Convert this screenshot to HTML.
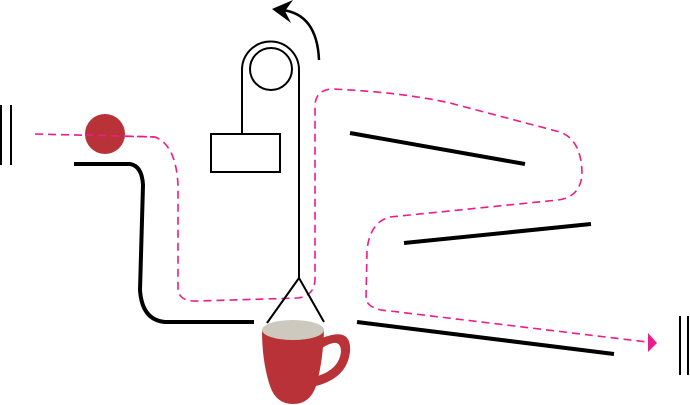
<!DOCTYPE html>
<html><head><style>html,body{margin:0;padding:0;background:#fff;width:690px;height:405px;overflow:hidden}</style></head>
<body>
<svg width="690" height="405" viewBox="0 0 690 405" xmlns="http://www.w3.org/2000/svg">
<g stroke="#000" stroke-width="2">
<line x1="1" y1="105" x2="1" y2="165"/><line x1="11" y1="105" x2="11" y2="165"/>
<line x1="680" y1="316" x2="680" y2="375"/><line x1="688" y1="316" x2="688" y2="375"/>
</g>
<path d="M35,134 L155,137 Q176,145 178,185 L178,290 Q180,302 198,301 L298,298 Q314,296 315,280 L315,105 Q316,90 332,89 Q400,92 450,103 L560,132 Q582,140 582,175 Q580,197 558,200 L390,217 Q370,222 367,250 L366,300 Q370,310 390,311 L647,342" fill="none" stroke="#ec1c8c" stroke-width="1.6" stroke-dasharray="8,5"/>
<polygon points="648,333 657,343 648,352" fill="#ec1c8c"/>
<circle cx="105" cy="134" r="20" fill="#b83238"/>
<path d="M85,135 L155,137" stroke="#ec1c8c" stroke-width="1.6" stroke-dasharray="8,5" fill="none"/>
<path d="M74,164 L130,164 Q142,166 143,185 L140,290 Q142,320 165,322 L254,322" fill="none" stroke="#000" stroke-width="4"/>
<g stroke="#000" stroke-width="4">
<line x1="350" y1="133" x2="525" y2="164"/>
<line x1="404" y1="243" x2="591" y2="224"/>
<line x1="357" y1="322" x2="614" y2="354"/>
</g>
<g fill="none" stroke="#000" stroke-width="2">
<path d="M242,134 L242,70 A28.5,28.5 0 0 1 299,70 L299,278 L267,323 M299,278 L324,322"/>
<circle cx="271" cy="69" r="21"/>
<rect x="211" y="134" width="69" height="38" fill="#fff"/>
<path d="M319,60 Q317,14 282,10" stroke-width="2.5"/>
</g>
<polygon points="272,9 293,0 285,11 291,23" fill="#000"/>
<path d="M322,338 Q352,326 350,352 Q347,378 316,386 L318,376 Q339,369 341,352 Q341,336 322,348 Z" fill="#b83238"/>
<path d="M262,330 Q262,362 270,386 Q276,404 293,404 Q310,404 316,386 Q323,362 324,330 Z" fill="#b83238"/>
<ellipse cx="293" cy="330" rx="31" ry="10" fill="#cdc9bf"/>
</svg>
</body></html>
